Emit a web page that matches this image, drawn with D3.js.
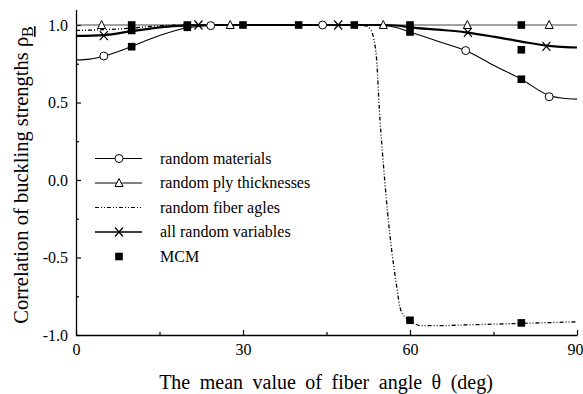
<!DOCTYPE html>
<html>
<head>
<meta charset="utf-8">
<script src="https://cdn.jsdelivr.net/npm/d3@7"></script>
<style>
  html, body { margin: 0; padding: 0; background: #fff; }
  svg { display: block; }
  text { font-family: "Liberation Serif", "Times New Roman", serif; fill: #000; }
</style>
</head>
<body>
<svg id="chart" width="583" height="394"></svg>
<script>
// Correlation of buckling strengths vs. mean fiber angle

// random materials (solid line, open circles)
const materialsDeg = [0, 2.5, 5, 7.5, 10, 15, 20, 25, 30, 40, 50, 55, 57.5, 60, 65, 70, 75, 80, 85, 87.5, 90];
const materialsRho = [0.775, 0.78, 0.80, 0.828, 0.862, 0.932, 0.982, 0.997, 1.0, 1.0, 1.0, 0.997, 0.984, 0.955, 0.895, 0.835, 0.74, 0.65, 0.545, 0.527, 0.522];
const materialsMarkDeg = [5, 24.2, 44.3, 70, 85];
const materialsMarkRho = [0.80, 0.996, 1.0, 0.835, 0.537];

// random ply thicknesses (thin line, open triangles)
const plyDeg = [0, 10, 20, 30, 40, 50, 60, 70, 80, 90];
const plyRho = [1.0, 1.0, 1.0, 1.0, 1.0, 1.0, 1.0, 1.0, 1.0, 1.0];
const plyMarkDeg = [4.6, 27.7, 55.2, 70.3, 85];
const plyMarkRho = [1.0, 1.0, 1.0, 1.0, 1.0];

// random fiber angles (dash-dot-dot line)
const fiberDeg = [0, 5, 10, 15, 20, 30, 40, 50, 52, 53, 53.5, 54, 54.5, 55, 55.5, 56, 56.7, 57.5, 58.2, 59, 60, 61, 62, 65, 70, 80, 90];
const fiberRho = [0.965, 0.97, 0.98, 0.995, 1.0, 1.0, 1.0, 1.0, 0.995, 0.965, 0.91, 0.78, 0.45, 0.2, -0.02, -0.22, -0.45, -0.66, -0.82, -0.88, -0.905, -0.93, -0.94, -0.94, -0.935, -0.925, -0.915];

// all random variables (thick line, crosses)
const allDeg = [0, 5, 10, 15, 20, 25, 30, 40, 50, 55, 58, 60, 65, 70, 75, 80, 85, 88, 90];
const allRho = [0.93, 0.935, 0.96, 0.985, 0.997, 1.0, 1.0, 1.0, 1.0, 1.0, 0.995, 0.985, 0.97, 0.953, 0.925, 0.893, 0.865, 0.857, 0.855];
const allMarkDeg = [5, 22, 47.1, 70.4, 84.5];
const allMarkRho = [0.932, 1.0, 1.0, 0.953, 0.862];

// Monte Carlo results (filled squares)
const mcmDeg = [10, 10, 10, 20, 20, 30, 40, 50, 60, 60, 60, 80, 80, 80, 80];
const mcmRho = [1.0, 0.965, 0.86, 1.0, 0.985, 1.0, 1.0, 1.0, 1.0, 0.955, -0.905, 1.0, 0.84, 0.65, -0.922];

// axes
const xTicks = [0, 30, 60, 90];
const xMinorTicks = [15, 45, 75];
const yTicks = [-1.0, -0.5, 0.0, 0.5, 1.0];
const yMinorTicks = [-0.75, -0.25, 0.25, 0.75];

const legendLabels = ["random materials", "random ply thicknesses", "random fiber agles", "all random variables", "MCM"];

const svg = d3.select("#chart");
const x = d3.scaleLinear().domain([0, 90]).range([76, 577]);
const y = d3.scaleLinear().domain([-1, 1.1]).range([335, 9.5]);

const zip = (a, b) => a.map((d, i) => [d, b[i]]);
const line = d3.line().x(d => x(d[0])).y(d => y(d[1])).curve(d3.curveMonotoneX);

// x axis
const gx = svg.append("g").attr("transform", "translate(0,335)");
gx.call(d3.axisBottom(x).tickValues(xTicks).tickSizeInner(-5).tickSizeOuter(0).tickPadding(9).tickFormat(d3.format("d")));
gx.append("g").call(d3.axisBottom(x).tickValues(xMinorTicks).tickSizeInner(-3).tickSizeOuter(0).tickFormat(""))
  .select(".domain").remove();
// last label sits at the window edge; right-align it so it stays inside
gx.selectAll(".tick text").filter(d => d === 90).attr("text-anchor", "end").attr("x", 6);

// y axis
const gy = svg.append("g").attr("transform", "translate(76,0)");
gy.call(d3.axisLeft(y).tickValues(yTicks).tickSizeInner(-5).tickSizeOuter(0).tickPadding(8).tickFormat(d => d.toFixed(1)));
gy.append("g").call(d3.axisLeft(y).tickValues(yMinorTicks).tickSizeInner(-3).tickSizeOuter(0).tickFormat(""))
  .select(".domain").remove();

svg.selectAll(".domain").attr("stroke", "#000").attr("stroke-width", 1.3);
svg.selectAll(".tick line").attr("stroke", "#000").attr("stroke-width", 1.2);
svg.selectAll(".tick text").attr("font-size", 16).attr("font-family", "Liberation Serif, serif").attr("fill", "#000");

// axis titles
svg.append("text")
  .attr("x", 326).attr("y", 389)
  .attr("text-anchor", "middle")
  .attr("font-size", 20)
  .attr("word-spacing", 4.5)
  .text("The mean value of fiber angle θ   (deg)");

const yt = svg.append("text")
  .attr("transform", "translate(28,175) rotate(-90)")
  .attr("text-anchor", "middle")
  .attr("font-size", 20.5);
yt.append("tspan").text("Correlation of buckling strengths  ρ");
yt.append("tspan").attr("dy", 5).attr("font-size", 16).attr("text-decoration", "underline").text("B");

// curves
const plot = svg.append("g");
plot.append("path").datum(zip(plyDeg, plyRho)).attr("d", line)
  .attr("fill", "none").attr("stroke", "#444").attr("stroke-width", 1);
plot.append("path").datum(zip(materialsDeg, materialsRho)).attr("d", line)
  .attr("fill", "none").attr("stroke", "#000").attr("stroke-width", 1.1);
plot.append("path").datum(zip(fiberDeg, fiberRho)).attr("d", line)
  .attr("fill", "none").attr("stroke", "#000").attr("stroke-width", 1.3)
  .attr("stroke-dasharray", "4,2,1,2,1,2");
plot.append("path").datum(zip(allDeg, allRho)).attr("d", line)
  .attr("fill", "none").attr("stroke", "#000").attr("stroke-width", 2.2);

// marker shapes
const circ = (g, cx, cy) => g.append("circle").attr("cx", cx).attr("cy", cy).attr("r", 4)
  .attr("fill", "#fff").attr("stroke", "#000").attr("stroke-width", 1);
const tri = (g, cx, cy) => g.append("path")
  .attr("d", `M${cx},${cy - 4.5}L${cx + 4},${cy + 3.5}L${cx - 4},${cy + 3.5}Z`)
  .attr("fill", "#fff").attr("stroke", "#000").attr("stroke-width", 1);
const cross = (g, cx, cy) => g.append("path")
  .attr("d", `M${cx - 4},${cy - 4.5}L${cx + 4},${cy + 4.5}M${cx + 4},${cy - 4.5}L${cx - 4},${cy + 4.5}`)
  .attr("stroke", "#000").attr("stroke-width", 1.2);
const sq = (g, cx, cy) => g.append("rect").attr("x", cx - 3.8).attr("y", cy - 3.8)
  .attr("width", 7.6).attr("height", 7.6).attr("fill", "#000");

materialsMarkDeg.forEach((d, i) => circ(plot, x(d), y(materialsMarkRho[i])));
plyMarkDeg.forEach((d, i) => tri(plot, x(d), y(plyMarkRho[i])));
allMarkDeg.forEach((d, i) => cross(plot, x(d), y(allMarkRho[i])));
mcmDeg.forEach((d, i) => sq(plot, x(d), y(mcmRho[i])));

// legend
const lg = svg.append("g");
const rowY = i => 158.5 + i * 24.5;
const sx0 = 95, sx1 = 142, smid = 119, tx = 160;
legendLabels.forEach((t, i) => {
  lg.append("text").attr("x", tx).attr("y", rowY(i)).attr("dy", "0.33em")
    .attr("font-size", 16).text(t);
});
lg.append("line").attr("x1", sx0).attr("x2", sx1).attr("y1", rowY(0)).attr("y2", rowY(0)).attr("stroke", "#000").attr("stroke-width", 1);
circ(lg, smid, rowY(0));
lg.append("line").attr("x1", sx0).attr("x2", sx1).attr("y1", rowY(1)).attr("y2", rowY(1)).attr("stroke", "#000").attr("stroke-width", 1);
tri(lg, smid, rowY(1));
lg.append("line").attr("x1", sx0).attr("x2", sx1).attr("y1", rowY(2)).attr("y2", rowY(2)).attr("stroke", "#000").attr("stroke-width", 1)
  .attr("stroke-dasharray", "4,2,1,2,1,2");
lg.append("line").attr("x1", sx0).attr("x2", sx1).attr("y1", rowY(3)).attr("y2", rowY(3)).attr("stroke", "#000").attr("stroke-width", 1.6);
cross(lg, smid, rowY(3));
sq(lg, smid, rowY(4));
</script>
</body>
</html>
